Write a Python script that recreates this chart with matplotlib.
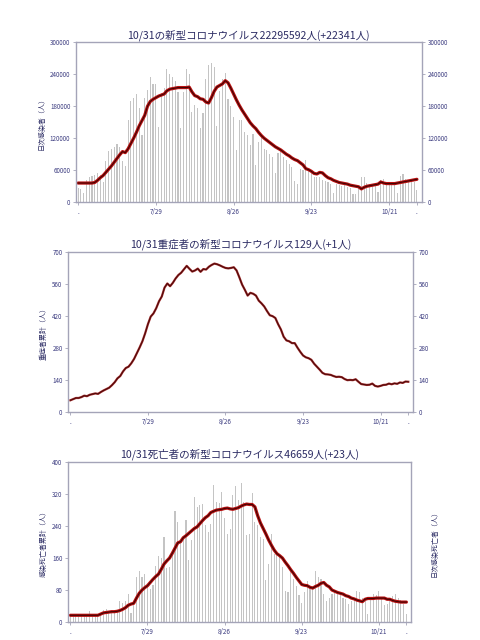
import numpy as np
import matplotlib
matplotlib.use("Agg")
import matplotlib.pyplot as plt

plt.rcParams['font.family'] = ['Noto Sans CJK JP', 'DejaVu Sans']

# -----------------------------
# Data (7/1 - 10/31, one value per day)
# -----------------------------
xtick_pos = [0, 28, 56, 84, 112, 122]
xtick_labels = [".", "7/29", "8/26", "9/23", "10/21", "."]

# daily new cases (thousands)
cases_k = [27, 25.6, 18, 42, 47.5, 49, 52, 55, 52, 38,
           77.5, 95.6, 99, 104, 110, 104, 77, 67.5, 155, 189,
           196, 203, 177.5, 127, 196, 210, 234, 222.5, 222, 141,
           205, 215, 249, 240, 235, 227.5, 207, 140, 207, 250.6,
           241, 169, 182, 177.5, 140, 167.5, 232, 257, 261, 254,
           142.5, 209, 232, 243, 193, 180, 160, 97.5, 154, 155,
           132, 125.6, 108, 128, 69, 113, 125.6, 100.6, 97.5, 91,
           84, 54, 92.5, 97.5, 85, 79, 72.5, 66, 39, 34,
           63, 60, 79, 60, 57, 47.5, 47.5, 47.5, 41, 40,
           38, 35, 18, 35, 32, 30.6, 32, 28.75, 26, 16,
           15, 27.5, 47.5, 47.5, 36, 35, 35, 34, 19, 42.5,
           43, 37, 35, 34, 35, 17.5, 49, 52.5, 43, 40,
           39, 38, 22.5]
# 7-day average line (thousands)
cases_avg_k = [36, 36, 36, 36, 36, 36, 37, 41, 46, 50,
               56, 62, 68, 75, 82, 89, 95, 93, 100, 110,
               120, 131, 143, 153, 163, 180, 189, 193, 196, 199,
               201, 203, 209, 212, 213, 214, 215, 215, 215, 215,
               216, 207, 200, 198, 194, 193, 188, 186, 196, 208,
               216, 219, 222, 228, 224, 214, 203, 192, 182, 173,
               165, 157, 149, 143, 138, 131, 125, 120, 116, 112,
               108, 104, 101, 98, 94, 90, 87, 83, 80, 78,
               74, 70, 63, 61, 58, 54, 53, 56, 55, 50,
               46, 44, 41, 39, 37, 36, 35, 34, 32, 31,
               30, 29, 25, 28, 30, 31, 32, 33, 34, 38,
               36, 35, 35, 35, 35, 36, 37, 38, 39, 40,
               41, 42, 43]

# severe cases
serious = [52, 57, 62, 62, 66, 72, 70, 76, 79, 82,
           80, 88, 95, 101, 107, 118, 131, 148, 158, 178,
           193, 199, 214, 233, 258, 283, 310, 345, 385, 418,
           432, 455, 485, 506, 545, 563, 551, 566, 585, 600,
           610, 625, 640, 627, 615, 620, 628, 614, 626, 624,
           636, 644, 650, 647, 642, 636, 631, 629, 631, 634,
           620, 590, 558, 535, 510, 522, 518, 510, 488, 476,
           462, 442, 424, 420, 412, 385, 362, 330, 314, 310,
           302, 302, 282, 264, 248, 240, 236, 229, 212, 199,
           186, 172, 166, 165, 163, 158, 154, 155, 153, 145,
           140, 141, 140, 144, 133, 123, 121, 119, 120, 125,
           115, 112, 115, 119, 120, 125, 122, 126, 124, 130,
           128, 134, 133]

# daily deaths
deaths = [18, 17, 15, 19, 16, 17, 20, 28, 17, 16,
          18, 20, 29, 32, 28, 27, 30, 26, 53, 47,
          53, 70, 23.5, 45, 113, 128.6, 113, 120, 95, 82,
          93, 141, 166, 160, 212.6, 134, 138.6, 180, 277, 250,
          202.5, 206, 254.6, 154, 204, 311.7, 286.5, 292, 294, 242,
          226, 246, 343, 301, 296.6, 324, 260, 221, 233.6, 317.6,
          340, 305, 347, 300, 216.8, 221, 322, 250, 243.7, 212.6,
          208, 105, 145, 221, 170.6, 174.8, 162, 137, 78, 74,
          128.6, 107.5, 91, 68, 48.7, 74, 103, 86.5, 91, 128.6,
          111.8, 107.5, 70, 53, 61, 70, 78, 70, 74, 61,
          57, 44.5, 53, 57, 78, 74, 61, 53, 19, 61,
          70, 68, 78, 57, 43, 44.5, 61, 65.5, 70, 61,
          55, 44.5, 19]
deaths_avg = [17, 17, 17, 17, 17, 17, 17, 17, 17, 17,
              17, 20, 23, 24, 25, 26, 26, 27, 29, 32,
              36, 42, 45, 47, 60, 72, 80, 86, 91, 99,
              107, 114, 120, 132, 145, 153, 160, 172, 185, 198,
              201, 211, 216, 222, 228, 234, 238, 246, 254, 261,
              266, 274, 277, 280, 281, 282, 284, 285, 283, 282,
              284, 286, 290, 293, 295, 294, 294, 288, 266, 248,
              234, 220, 205, 192, 180, 171, 166, 160, 150, 141,
              131, 122, 112, 103, 94, 92, 91, 87, 85, 89,
              92, 97, 99, 92, 88, 80, 77, 74, 72, 70,
              66, 64, 60, 58, 55, 53, 51, 57, 59, 59,
              59, 60, 60, 60, 60, 57, 57, 54, 52, 51,
              50, 50, 50]

titles = ["10/31の新型コロナウイルス22295592人(+22341人)",
          "10/31重症者の新型コロナウイルス129人(+1人)",
          "10/31死亡者の新型コロナウイルス46659人(+23人)"]

# -----------------------------
# Styling helpers
# -----------------------------
NAVY = "#2c2c64"
TICK_C = "#3c3c80"
SPINE_C = "#a4a4b8"
BAR_C = "#c4c4c4"


def style_axes(ax, ymax, yticks):
    for s in ax.spines.values():
        s.set_color(SPINE_C)
        s.set_linewidth(1.0)
    ax.set_xlim(-0.8, 123.8)
    ax.set_ylim(0, ymax)
    ax.set_yticks(yticks)
    ax.set_yticklabels([str(v) for v in yticks])
    ax.set_xticks(xtick_pos)
    ax.set_xticklabels(xtick_labels)
    ax.tick_params(axis="y", left=True, right=True, labelleft=True,
                   labelright=True, length=2, width=0.6, color=SPINE_C,
                   labelsize=4.5, labelcolor=TICK_C, pad=2)
    ax.tick_params(axis="x", length=2, width=0.6, color=SPINE_C,
                   labelsize=4.5, labelcolor=TICK_C, pad=2)


fig = plt.figure(figsize=(4.8, 6.4), dpi=100)
x = np.arange(len(cases_k))

# -----------------------------
# Panel 1: new cases
# -----------------------------
ax1 = fig.add_axes([0.158, 0.684, 0.721, 0.25])
ax1.bar(x, np.array(cases_k) * 1000, width=0.4, color=BAR_C)
ax1.plot(x, np.array(cases_avg_k) * 1000, color="#b81010", lw=2.3,
         solid_capstyle="round")
ax1.plot(x, np.array(cases_avg_k) * 1000, color="#400404", lw=0.8)
style_axes(ax1, 300000, [0, 60000, 120000, 180000, 240000, 300000])
ax1.set_ylabel("日次感染者（人）", fontsize=5, color=NAVY, labelpad=3)
ax1.set_title(titles[0], fontsize=7.6, color=NAVY, pad=3)

# -----------------------------
# Panel 2: severe cases
# -----------------------------
ax2 = fig.add_axes([0.142, 0.356, 0.719, 0.25])
ax2.plot(x, serious, color="#a02a2a", lw=1.6)
ax2.plot(x, serious, color="#4a0808", lw=0.7)
style_axes(ax2, 700, [0, 140, 280, 420, 560, 700])
ax2.set_ylabel("重症者累計（人）", fontsize=5, color=NAVY, labelpad=3)
ax2.set_title(titles[1], fontsize=7.6, color=NAVY, pad=3)

# -----------------------------
# Panel 3: deaths
# -----------------------------
ax3 = fig.add_axes([0.142, 0.028, 0.715, 0.25])
ax3.bar(x, deaths, width=0.4, color=BAR_C)
ax3.plot(x, deaths_avg, color="#b81010", lw=2.3, solid_capstyle="round")
ax3.plot(x, deaths_avg, color="#400404", lw=0.8)
style_axes(ax3, 400, [0, 80, 160, 240, 320, 400])
ax3.set_ylabel("感染死亡者累計（人）", fontsize=5, color=NAVY, labelpad=3)
ax3r = ax3.twinx()
ax3r.set_ylim(0, 400)
ax3r.set_yticks([])
for s in ax3r.spines.values():
    s.set_visible(False)
ax3r.set_ylabel("日次感染死亡者（人）", fontsize=5, color=NAVY,
                rotation=90, labelpad=14)
ax3.set_title(titles[2], fontsize=7.6, color=NAVY, pad=3)

fig.savefig("out.png", dpi=100, facecolor="white")
